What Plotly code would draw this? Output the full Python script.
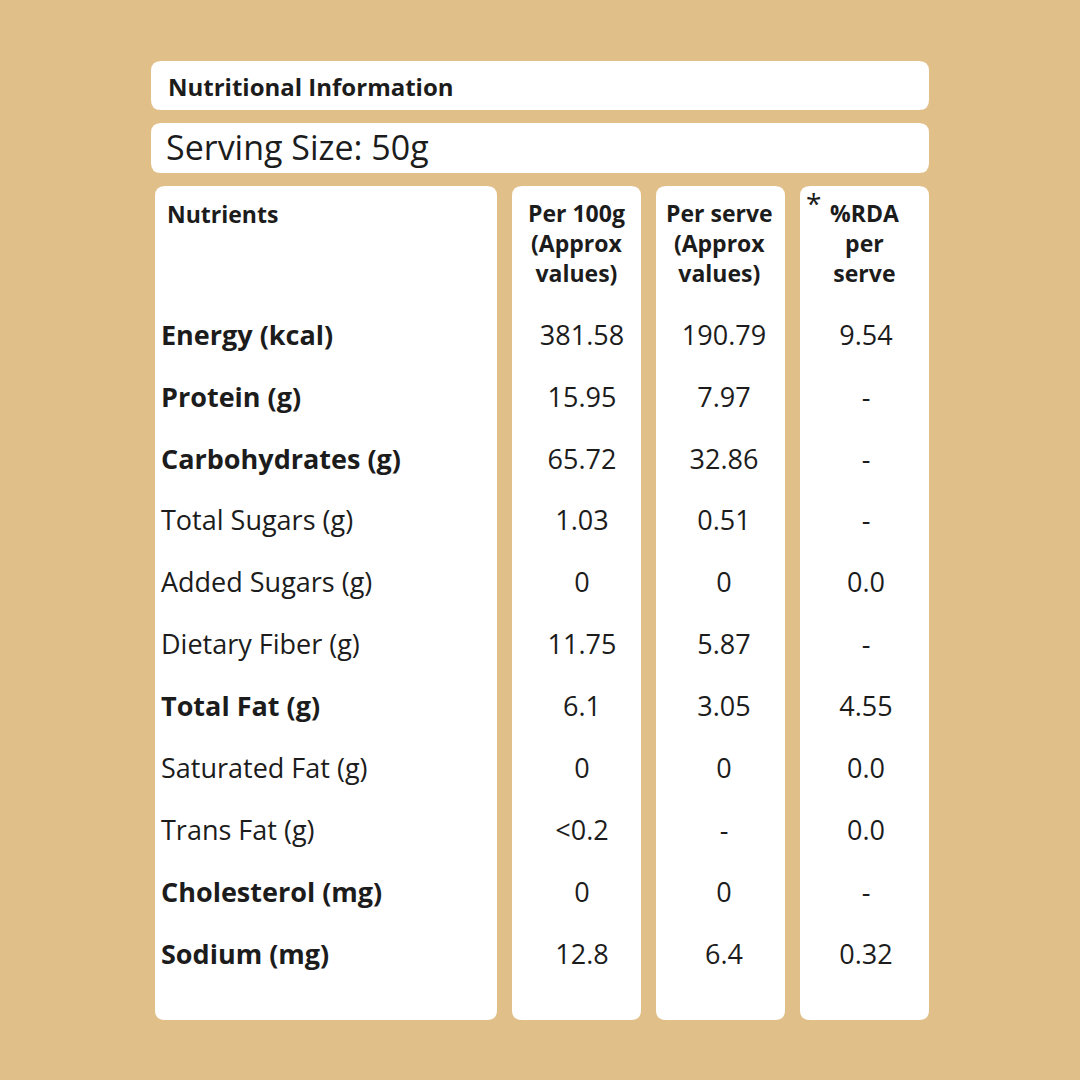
import plotly.graph_objects as go

title = "Nutritional Information"
serving = "Serving Size: 50g"
headers = ["Nutrients", "Per 100g<br>(Approx<br>values)", "Per serve<br>(Approx<br>values)", "%RDA<br>per<br>serve"]
nutrients = ["Energy (kcal)", "Protein (g)", "Carbohydrates (g)", "Total Sugars (g)",
             "Added Sugars (g)", "Dietary Fiber (g)", "Total Fat (g)", "Saturated Fat (g)",
             "Trans Fat (g)", "Cholesterol (mg)", "Sodium (mg)"]
bold = [True, True, True, False, False, False, True, False, False, True, True]
per100 = ["381.58", "15.95", "65.72", "1.03", "0", "11.75", "6.1", "0", "<0.2", "0", "12.8"]
perserve = ["190.79", "7.97", "32.86", "0.51", "0", "5.87", "3.05", "0", "-", "0", "6.4"]
rda = ["9.54", "-", "-", "-", "0.0", "-", "4.55", "0.0", "0.0", "-", "0.32"]

BG = "#E0BF89"
FONT = "Open Sans"
INK = "#1c1c1c"

def rrect(x0, y0, x1, y1, r=10):
    return dict(type="path", xref="x", yref="y", fillcolor="white", line=dict(width=0), layer="below",
                path=f"M{x0+r},{y0} L{x1-r},{y0} Q{x1},{y0} {x1},{y0+r} L{x1},{y1-r} Q{x1},{y1} {x1-r},{y1} "
                     f"L{x0+r},{y1} Q{x0},{y1} {x0},{y1-r} L{x0},{y0+r} Q{x0},{y0} {x0+r},{y0} Z")

shapes = [rrect(151, 61, 929, 110), rrect(151, 123, 929, 173)]
cols = [(155, 497), (512, 641), (656, 785), (800, 929)]
for a, b in cols:
    shapes.append(rrect(a, 186, b, 1020))

row_y = [338 + 61.9 * i for i in range(len(nutrients))]

fig = go.Figure()
fig.add_trace(go.Scatter(
    x=[161] * len(nutrients), y=row_y, mode="text", textposition="middle right",
    text=[f"<b>{n}</b>" if b else n for n, b in zip(nutrients, bold)],
    textfont=dict(family=FONT, size=27, color=INK), hoverinfo="skip"))
for xc, vals in zip([582, 724, 866], [per100, perserve, rda]):
    fig.add_trace(go.Scatter(x=[xc] * len(vals), y=row_y, mode="text", text=vals,
                             textfont=dict(family=FONT, size=27, color=INK), hoverinfo="skip"))

ann = [
    dict(x=166, y=86, text=f"<b>{title}</b>", xanchor="left", font=dict(size=24)),
    dict(x=164, y=147, text=serving, xanchor="left", font=dict(size=34)),
    dict(x=165, y=214, text="<b>" + headers[0] + "</b>", xanchor="left", font=dict(size=23)),
    dict(x=576, y=243, text="<b>" + headers[1] + "</b>", xanchor="center", font=dict(size=23)),
    dict(x=719, y=243, text="<b>" + headers[2] + "</b>", xanchor="center", font=dict(size=23)),
    dict(x=864, y=243, text="<b>" + headers[3] + "</b>", xanchor="center", font=dict(size=23)),
    dict(x=813, y=203, text="*", xanchor="center", font=dict(size=28)),
]
for a in ann:
    a.update(xref="x", yref="y", showarrow=False, yanchor="middle")
    a["font"].update(family=FONT, color=INK)

fig.update_layout(
    width=1080, height=1080, margin=dict(l=0, r=0, t=0, b=0),
    paper_bgcolor=BG, plot_bgcolor=BG, showlegend=False,
    shapes=shapes, annotations=ann,
    xaxis=dict(range=[0, 1080], visible=False, fixedrange=True),
    yaxis=dict(range=[1080, 0], visible=False, fixedrange=True),
)
fig.write_html("out.html", config={"displayModeBar": False},
               post_script="document.body.style.margin='0';document.body.style.background='%s';" % BG)
